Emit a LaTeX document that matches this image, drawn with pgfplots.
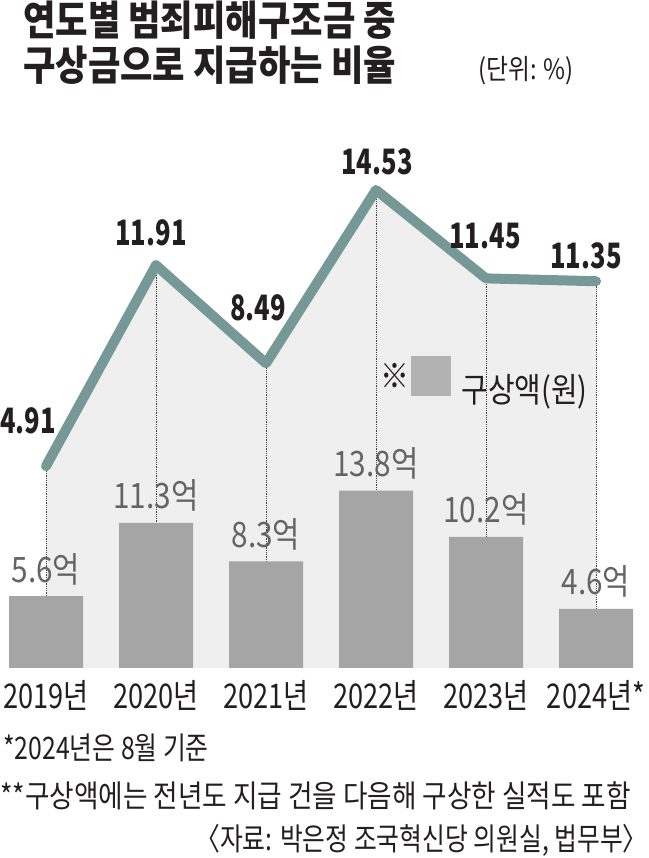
\documentclass[border=0pt]{standalone}
\usepackage{fontspec}
\usepackage{pgfplots}
\usepackage{pgfplotstable}
\pgfplotsset{compat=1.18}

\setmainfont{Noto Sans CJK KR}
\newfontfamily\ttlfont[FakeStretch=0.86]{Noto Sans CJK KR}
\newfontfamily\numfont[FakeStretch=0.73]{Noto Sans CJK KR}
\newfontfamily\lblfont[FakeStretch=0.8]{Noto Sans CJK KR}
\newfontfamily\legfont[FakeStretch=0.85]{Noto Sans CJK KR}
\newfontfamily\noteA[FakeStretch=0.8]{Noto Sans CJK KR}
\newfontfamily\noteB[FakeStretch=0.86]{Noto Sans CJK KR}

\definecolor{linecol}{RGB}{118,153,152}
\definecolor{areacol}{RGB}{238,239,238}
\definecolor{barcol}{RGB}{165,165,165}
\definecolor{legcol}{RGB}{178,178,178}
\definecolor{barlbl}{RGB}{100,100,100}
\definecolor{textcol}{RGB}{35,31,32}

% share of compensation recovered (%), label offsets in px
\pgfplotstableread{
x rate dx dy
0 4.91 -18 33
1 11.91 -5 20
2 8.49 -8 43
3 14.53 1 15
4 11.45 -1 30
5 11.35 -10 13
}\ratetab

% amount recovered (100 million won)
\pgfplotstableread{
x amt lab
0 5.6 5.6억
1 11.3 11.3억
2 8.3 8.3억
3 13.8 13.8억
4 10.2 10.2억
5 4.6 4.6억
}\amttab

\pgfplotsset{
  base/.style={
    at={(2pt,190pt)}, anchor=south west,
    scale only axis, width=638pt, height=508pt,
    xmin=-0.4, xmax=5.4,
    clip=false,
    axis line style={draw=none},
    tick style={draw=none},
    ytick=\empty, xtick=\empty,
  },
  ratescale/.style={ymin=-2.125, ymax=15.575},
  amtscale/.style={ymin=0, ymax=39.53},
}

\begin{document}
\begin{tikzpicture}[x=1pt,y=1pt]
\useasboundingbox (0,0) rectangle (648,858);
\fill[white] (0,0) rectangle (648,858);

% background area and guide lines
\begin{axis}[base, ratescale]
\addplot[fill=areacol, draw=none] coordinates {
  (0,-2.125) (0,4.91) (1,11.91) (2,8.49) (3,14.53) (4,11.45) (5,11.35) (5,-2.125)};
\addplot[densely dotted, black!75, line width=0.8pt] coordinates {(0,-2.125) (0,4.91)};
\addplot[densely dotted, black!75, line width=0.8pt] coordinates {(1,-2.125) (1,11.91)};
\addplot[densely dotted, black!75, line width=0.8pt] coordinates {(2,-2.125) (2,8.49)};
\addplot[densely dotted, black!75, line width=0.8pt] coordinates {(3,-2.125) (3,14.53)};
\addplot[densely dotted, black!75, line width=0.8pt] coordinates {(4,-2.125) (4,11.45)};
\addplot[densely dotted, black!75, line width=0.8pt] coordinates {(5,-2.125) (5,11.35)};
\end{axis}

% bars
\begin{axis}[base, amtscale,
  xtick={0,...,5},
  xticklabels={2019년,2020년,2021년,2022년,2023년,2024년*},
  xticklabel style={anchor=base, inner sep=0pt, yshift=-41pt,
    font=\lblfont\fontsize{34}{34}\selectfont, text=textcol},
  legend style={at={(0.5925,0.565)}, anchor=west, draw=none, fill=none,
    inner sep=0pt, font=\legfont\fontsize{34}{34}\selectfont, text=textcol,
    cells={anchor=west}, /tikz/every odd column/.append style={column sep=9pt}},
]
\addplot[ybar, bar width=74pt, fill=barcol, draw=none,
  nodes near coords, point meta=explicit symbolic,
  nodes near coords style={anchor=base, inner sep=0pt, yshift=14pt,
    font=\legfont\fontsize{35}{35}\selectfont, text=barlbl},
  legend image code/.code={
    \node[anchor=center, inner sep=0pt, text=textcol,
      font=\legfont\fontsize{34}{34}\selectfont] at (-16pt,12.5pt) {※};
    \fill[legcol] (0pt,-7.5pt) rectangle (40pt,32.5pt);},
] table[x=x, y=amt, meta=lab] {\amttab};
\addlegendentry{구상액(원)}
\end{axis}

% rate line
\begin{axis}[base, ratescale]
\addplot[linecol, line width=10pt, line cap=round, line join=round,
  nodes near coords, point meta=explicit symbolic,
  visualization depends on={\thisrow{dx} \as \dx},
  visualization depends on={\thisrow{dy} \as \dy},
  nodes near coords style={anchor=base, inner sep=0pt,
    xshift=\dx pt, yshift=\dy pt,
    font=\numfont\bfseries\fontsize{35}{35}\selectfont, text=textcol},
] table[x=x, y=rate, meta=rate] {\ratetab};
\end{axis}

% title and notes
\node[anchor=base west, inner sep=0pt, text=textcol,
  font=\ttlfont\bfseries\fontsize{41}{41}\selectfont] at (23,822) {연도별 범죄피해구조금 중};
\node[anchor=base west, inner sep=0pt, text=textcol,
  font=\ttlfont\bfseries\fontsize{41}{41}\selectfont] at (23,777) {구상금으로 지급하는 비율};
\node[anchor=base west, inner sep=0pt, text=textcol,
  font=\legfont\fontsize{28}{28}\selectfont] at (478,778) {(단위: \%)};
\node[anchor=base west, inner sep=0pt, text=textcol,
  font=\noteA\fontsize{31}{31}\selectfont] at (3,98) {*2024년은 8월 기준};
\node[anchor=base west, inner sep=0pt, text=textcol,
  font=\noteB\fontsize{31}{31}\selectfont] at (0,50) {**구상액에는 전년도 지급 건을 다음해 구상한 실적도 포함};
\node[anchor=base east, inner sep=0pt, text=textcol,
  font=\noteA\fontsize{31}{31}\selectfont] at (648,7) {〈자료: 박은정 조국혁신당 의원실, 법무부〉};
\end{tikzpicture}
\end{document}
